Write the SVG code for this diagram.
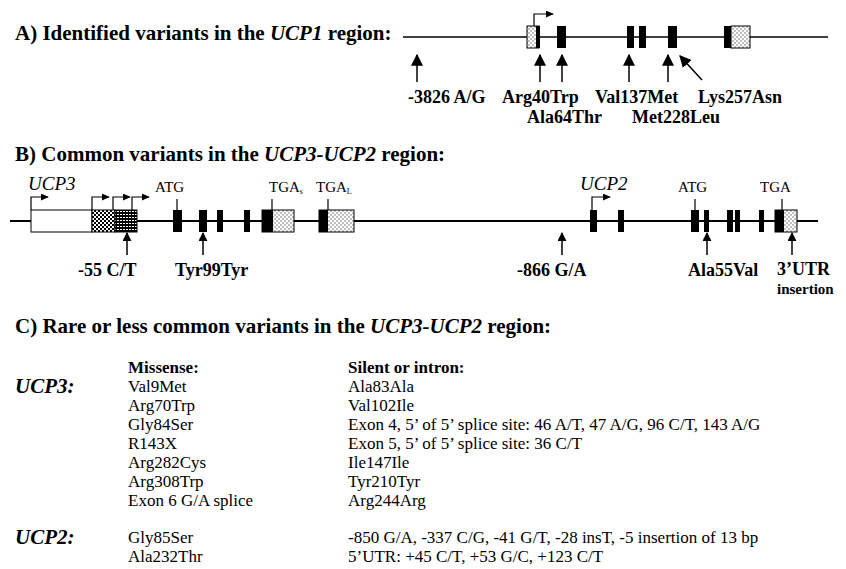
<svg xmlns="http://www.w3.org/2000/svg" width="846" height="569" viewBox="0 0 846 569">
<defs>
<pattern id="stip" width="4" height="4" patternUnits="userSpaceOnUse">
<rect width="4" height="4" fill="#fff"/>
<rect x="0.5" y="0.5" width="1" height="1" fill="#000"/>
<rect x="2.5" y="2.5" width="1" height="1" fill="#000"/>
</pattern>
<pattern id="check" width="4" height="4" patternUnits="userSpaceOnUse">
<rect width="4" height="4" fill="#fff"/>
<rect x="0" y="0" width="2" height="2" fill="#000"/>
<rect x="2" y="2" width="2" height="2" fill="#000"/>
</pattern>
<pattern id="grid" width="3" height="3" patternUnits="userSpaceOnUse">
<rect width="3" height="3" fill="#000"/>
<rect x="0" y="1" width="2" height="1" fill="#fff"/>
</pattern>
<marker id="ah" viewBox="0 0 10 10" refX="9" refY="5" markerWidth="12" markerHeight="12" markerUnits="userSpaceOnUse" orient="auto" preserveAspectRatio="none">
<path d="M0,0 L10,5 L0,10 z" fill="#000"/>
</marker>
<marker id="ahs" viewBox="0 0 10 10" refX="9" refY="5" markerWidth="9" markerHeight="9" markerUnits="userSpaceOnUse" orient="auto" preserveAspectRatio="none">
<path d="M0,0 L10,5 L0,10 z" fill="#000"/>
</marker>
<marker id="tr" viewBox="0 0 10 10" refX="9" refY="5" markerWidth="8" markerHeight="7" markerUnits="userSpaceOnUse" orient="auto" preserveAspectRatio="none">
<path d="M0,0 L10,5 L0,10 z" fill="#000"/>
</marker>
</defs>
<style>
text{font-family:"Liberation Serif","Times New Roman",serif;fill:#000}
.h{font-size:21px;font-weight:bold}
.lb{font-size:18px;font-weight:bold}
.gi{font-style:italic}
.gl{font-size:19px;font-style:italic}
.sm{font-size:15px}
.t{font-size:17px}
.tb{font-size:17px;font-weight:bold}
.rl{font-size:21px;font-weight:bold;font-style:italic}
.ex{fill:#000}
.st{fill:url(#stip);stroke:#000;stroke-width:1}
.dna{stroke:#000;stroke-width:1.6;fill:none}
.arr{stroke:#000;stroke-width:1.5;fill:none;marker-end:url(#ah)}
.arrs{stroke:#000;stroke-width:1.5;fill:none;marker-end:url(#ahs)}
.trs{stroke:#000;stroke-width:1.2;fill:none;marker-end:url(#tr)}
.tick{stroke:#000;stroke-width:1.2}
</style>

<g id="titleA"><text class="h" x="15" y="40">A) Identified variants in the <tspan class="gi">UCP1</tspan> region:</text></g>

<g id="geneA">
<line class="dna" x1="403" y1="37" x2="828" y2="37"/>
<rect class="st" x="527" y="26" width="12" height="22"/>
<rect class="ex" x="536" y="26" width="4" height="22"/>
<rect class="ex" x="557" y="26" width="9" height="22"/>
<rect class="ex" x="627" y="26" width="7" height="22"/>
<rect class="ex" x="639" y="26" width="7" height="22"/>
<rect class="ex" x="668" y="26" width="9" height="22"/>
<rect class="ex" x="724" y="26" width="8" height="22"/>
<rect class="st" x="731" y="26" width="19" height="22"/>
</g>

<g id="labelsA">
<text class="lb" x="408" y="103">-3826 A/G</text>
<text class="lb" x="502" y="103">Arg40Trp</text>
<text class="lb" x="527" y="123">Ala64Thr</text>
<text class="lb" x="595" y="103">Val137Met</text>
<text class="lb" x="632" y="123">Met228Leu</text>
<text class="lb" x="698" y="103">Lys257Asn</text>
</g>

<g id="titleB"><text class="h" x="15" y="161">B) Common variants in the <tspan class="gi">UCP3-UCP2</tspan> region:</text></g>

<g id="geneB">
<line class="dna" x1="10" y1="221" x2="818" y2="221" style="stroke-width:2"/>
<text class="gl" x="28" y="190">UCP3</text>
<rect x="31" y="210" width="61" height="22" fill="#fff" stroke="#000" stroke-width="1"/>
<rect x="92" y="210" width="23" height="22" fill="url(#check)" stroke="#000" stroke-width="1"/>
<rect x="115" y="210" width="22" height="22" fill="url(#grid)" stroke="#000" stroke-width="1"/>
<text class="sm" x="155" y="192">ATG</text>
<line class="tick" x1="177" y1="199" x2="177" y2="210"/>
<rect class="ex" x="173" y="210" width="9" height="22"/>
<rect class="ex" x="199" y="210" width="8" height="22"/>
<rect class="ex" x="217" y="210" width="6" height="22"/>
<rect class="ex" x="244" y="210" width="6" height="22"/>
<text class="sm" x="269" y="192">TGA<tspan font-size="8" dy="2">s</tspan></text>
<line class="tick" x1="272" y1="199" x2="272" y2="210"/>
<rect class="st" x="262" y="210" width="32" height="22"/>
<rect class="ex" x="262" y="210" width="11" height="22"/>
<text class="sm" x="316" y="192">TGA<tspan font-size="8" dy="2">L</tspan></text>
<line class="tick" x1="328" y1="199" x2="328" y2="210"/>
<rect class="st" x="319" y="210" width="35" height="22"/>
<rect class="ex" x="319" y="210" width="9" height="22"/>

<text class="gl" x="580" y="190">UCP2</text>
<rect class="ex" x="590" y="210" width="7" height="22"/>
<rect class="ex" x="618" y="210" width="6" height="22"/>
<text class="sm" x="678" y="192">ATG</text>
<line class="tick" x1="695" y1="199" x2="695" y2="210"/>
<rect class="ex" x="691" y="210" width="8" height="22"/>
<rect class="ex" x="704" y="210" width="5" height="22"/>
<rect class="ex" x="727" y="210" width="6" height="22"/>
<rect class="ex" x="735" y="210" width="5" height="22"/>
<rect class="ex" x="759" y="210" width="5" height="22"/>
<text class="sm" x="760" y="192">TGA</text>
<line class="tick" x1="782" y1="199" x2="782" y2="210"/>
<rect class="st" x="775" y="210" width="22" height="22"/>
<rect class="ex" x="775" y="210" width="9" height="22"/>
</g>

<g id="labelsB">
<text class="lb" x="78" y="276">-55 C/T</text>
<text class="lb" x="175" y="276">Tyr99Tyr</text>
<text class="lb" x="517" y="276">-866 G/A</text>
<text class="lb" x="688" y="276">Ala55Val</text>
<text class="lb" x="777" y="275">3’UTR</text>
<text class="lb" x="777" y="294" style="font-size:15px">insertion</text>
</g>

<g id="connectors">
<line class="arr" x1="417" y1="82" x2="417" y2="55"/>
<line class="arr" x1="540" y1="82" x2="540" y2="55"/>
<line class="arr" x1="562" y1="82" x2="562" y2="55"/>
<line class="arr" x1="629" y1="82" x2="629" y2="55"/>
<line class="arr" x1="668" y1="82" x2="668" y2="55"/>
<line class="arr" x1="702" y1="80" x2="680" y2="56"/>
<polyline class="trs" points="534,26 534,14 553,14"/>
<polyline class="trs" points="31,210 31,197 48,197"/>
<polyline class="trs" points="92,210 92,197 109,197"/>
<polyline class="trs" points="113,210 113,197 130,197"/>
<polyline class="trs" points="132,210 132,197 149,197"/>
<polyline class="trs" points="592,210 592,197 610,197"/>
<line class="arrs" x1="127" y1="255" x2="127" y2="233"/>
<line class="arrs" x1="203" y1="255" x2="203" y2="233"/>
<line class="arrs" x1="562" y1="255" x2="562" y2="233"/>
<line class="arrs" x1="707" y1="255" x2="707" y2="233"/>
<line class="arrs" x1="792" y1="255" x2="792" y2="233"/>
</g>

<g id="sectionC">
<text class="h" x="15" y="333">C) Rare or less common variants in the <tspan class="gi">UCP3-UCP2</tspan> region:</text>
<text class="tb" x="128" y="373">Missense:</text>
<text class="tb" x="348" y="373">Silent or intron:</text>
<text class="rl" x="15" y="393">UCP3:</text>
<text class="t" x="128" y="392">Val9Met</text>
<text class="t" x="128" y="411">Arg70Trp</text>
<text class="t" x="128" y="430">Gly84Ser</text>
<text class="t" x="128" y="449">R143X</text>
<text class="t" x="128" y="468">Arg282Cys</text>
<text class="t" x="128" y="487">Arg308Trp</text>
<text class="t" x="128" y="506">Exon 6 G/A splice</text>
<text class="t" x="348" y="392">Ala83Ala</text>
<text class="t" x="348" y="411">Val102Ile</text>
<text class="t" x="348" y="430">Exon 4, 5’ of 5’ splice site: 46 A/T, 47 A/G, 96 C/T, 143 A/G</text>
<text class="t" x="348" y="449">Exon 5, 5’ of 5’ splice site: 36 C/T</text>
<text class="t" x="348" y="468">Ile147Ile</text>
<text class="t" x="348" y="487">Tyr210Tyr</text>
<text class="t" x="348" y="506">Arg244Arg</text>
<text class="rl" x="15" y="544">UCP2:</text>
<text class="t" x="128" y="543">Gly85Ser</text>
<text class="t" x="128" y="562">Ala232Thr</text>
<text class="t" x="348" y="543">-850 G/A, -337 C/G, -41 G/T, -28 insT, -5 insertion of 13 bp</text>
<text class="t" x="348" y="562">5’UTR: +45 C/T, +53 G/C, +123 C/T</text>
</g>
</svg>
